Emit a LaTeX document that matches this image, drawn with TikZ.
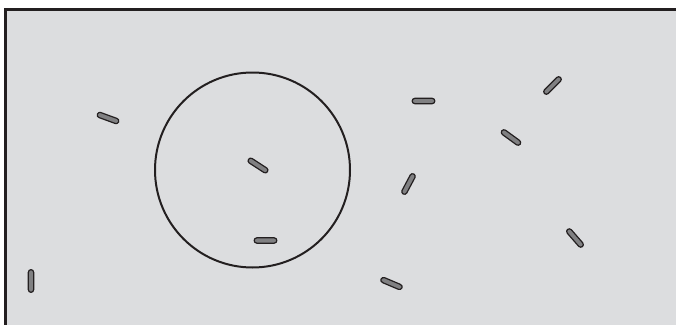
\documentclass[tikz,border=0pt]{standalone}
\usepackage{tikz}

\definecolor{panelgray}{RGB}{220,221,223}
\definecolor{rodgray}{RGB}{128,128,130}
\definecolor{inkblack}{RGB}{35,31,32}

\begin{document}
\begin{tikzpicture}[x=0.75pt,y=0.75pt,yscale=-1,xscale=1,
		rod/.style={draw=inkblack,fill=rodgray,line width=0.9pt,rectangle,rounded corners=2pt,minimum width=17pt,minimum height=4pt,inner sep=0pt}]
			\clip (0,0) rectangle (676,325);
			
			%Panel
			\draw [fill=panelgray,draw=inkblack,line width=2.2pt] (5.5,9.5) rectangle (690,340) ;
			%Circle
			\draw [inkblack,line width=1.5pt] (252.5,170) circle [radius=97.5] ;
			
			%Rods
			\foreach \x/\y/\a [count=\i] in {108/118/-20, 258/165.5/-33, 265.5/240.5/0, 31/281/90, 391.5/283.5/-23, 423.5/101/0, 408.5/184/62, 552.5/85.5/45, 511/137.5/-36, 575/238/-49}
				\node (rod\i) [rod,rotate=\a] at (\x,\y) {};
		\end{tikzpicture}
\end{document}
